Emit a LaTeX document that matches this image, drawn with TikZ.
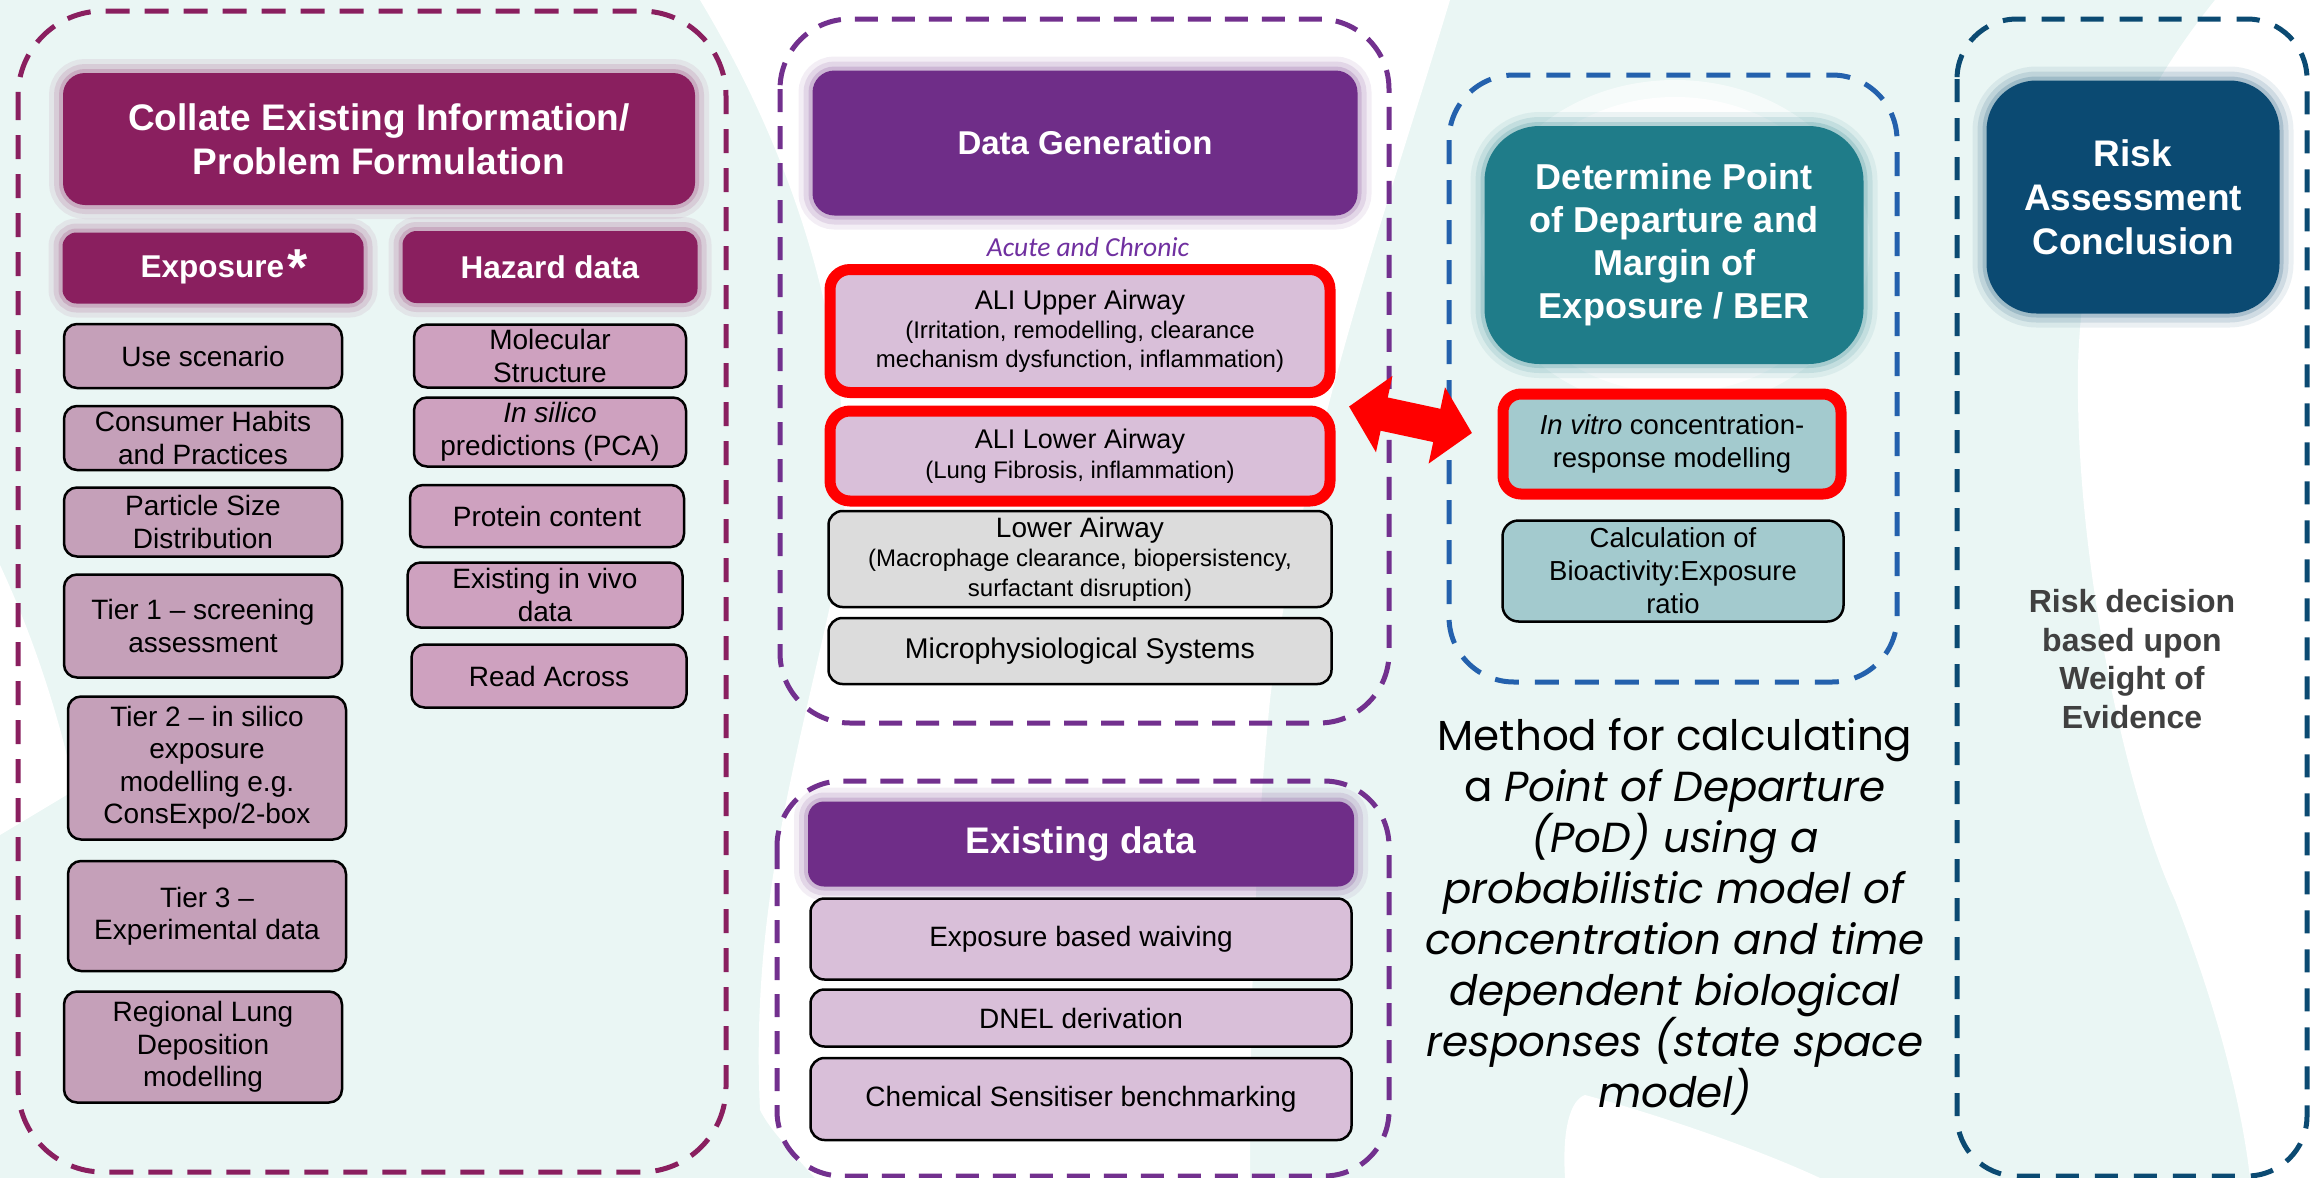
\documentclass[tikz,border=0pt]{standalone}
\usepackage{fontspec}
\setmainfont{Liberation Sans}
\newfontfamily\calfont{Carlito}
\newfontfamily\methodfont{Poppins}
\usetikzlibrary{arrows.meta,calc}

\definecolor{bgmint}{HTML}{EAF6F4}
\definecolor{magenta}{HTML}{8A1F5F}
\definecolor{exfill}{HTML}{C5A0B9}
\definecolor{hzfill}{HTML}{CEA1BF}
\definecolor{purp}{HTML}{6F2D88}
\definecolor{purpdash}{HTML}{72308E}
\definecolor{lav}{HTML}{D9BFD9}
\definecolor{greyfill}{HTML}{DCDCDC}
\definecolor{teal}{HTML}{1F7C89}
\definecolor{lteal}{HTML}{A3CACE}
\definecolor{bluedash}{HTML}{2461AD}
\definecolor{navy}{HTML}{0B4A72}
\definecolor{darkgrey}{HTML}{404040}
\definecolor{acute}{HTML}{7030A0}

\newcommand\fsz[2]{\fontsize{#1}{#2}\selectfont}

\tikzset{
  glow/.style={
    preaction={draw=#1, line width=28pt, opacity=0.08},
    preaction={draw=#1, line width=18pt, opacity=0.12},
    preaction={draw=#1, line width=8pt, opacity=0.18}},
  hdr/.style={fill=#1, glow=#1, text=white, inner sep=0pt, align=center,
    rounded corners=22pt},
  itemE/.style={draw=black, line width=2.5pt, fill=exfill, rounded corners=13pt,
    inner sep=0pt, align=center, font=\fsz{28}{32.5}},
  itemH/.style={itemE, fill=hzfill},
  redbox/.style={draw=red, line width=11pt, rounded corners=20pt, inner sep=0pt,
    align=center},
  greybox/.style={draw=black, line width=2.5pt, fill=greyfill, rounded corners=14pt,
    inner sep=0pt, align=center},
  exbox/.style={draw=black, line width=2.5pt, fill=lav, rounded corners=14pt,
    inner sep=0pt, align=center, font=\fsz{28}{32}},
  container/.style={line width=5pt, draw=#1},
  bigarrow/.style={draw=red, line width=34pt,
    {Triangle[length=36pt,width=76pt]}-{Triangle[length=36pt,width=76pt]}}
}

\begin{document}
\begin{tikzpicture}[x=1pt,y=-1pt]
\useasboundingbox (0,0) rectangle (2311,1178);

% background with soft white swooshes
\fill[bgmint] (0,0) rectangle (2311,1178);
\fill[white] (700,0) -- (1450,0)
  .. controls (1390,200) and (1300,450) .. (1270,700)
  .. controls (1255,850) and (1250,1000) .. (1250,1178) -- (815,1178)
  .. controls (790,1150) and (770,1130) .. (760,1110)
  .. controls (750,900) and (800,750) .. (840,560)
  .. controls (860,400) and (820,200) .. (700,0) -- cycle;
\fill[white] (2215,0) .. controls (2110,130) and (2075,260) .. (2078,400)
  .. controls (2080,560) and (2120,780) .. (2175,900)
  .. controls (2210,990) and (2240,1090) .. (2250,1178)
  -- (2311,1178) -- (2311,0) -- cycle;
\fill[white] (1565,1178) .. controls (1562,1130) and (1570,1100) .. (1585,1095)
  .. controls (1660,1115) and (1760,1150) .. (1820,1178) -- cycle;
\fill[white] (0,565) .. controls (35,640) and (60,720) .. (75,790)
  .. controls (50,805) and (25,820) .. (0,835) -- cycle;
\fill[white, opacity=0.6] (1675,245) ellipse [x radius=195pt, y radius=165pt];
\fill[white, opacity=0.9] (1675,245) ellipse [x radius=175pt, y radius=148pt];

% dashed stage frames
\draw[container=magenta, dash pattern=on 24pt off 15pt, rounded corners=85pt]
  (18,11) rectangle (726,1172);
\draw[container=purpdash, dash pattern=on 23pt off 14pt, rounded corners=70pt]
  (780,19) rectangle (1389,723);
\draw[container=purpdash, dash pattern=on 23pt off 14pt, rounded corners=65pt]
  (777,781) rectangle (1389,1176);
\draw[container=bluedash, dash pattern=on 24pt off 16pt, rounded corners=65pt]
  (1449,75) rectangle (1897,682);
\draw[container=navy, dash pattern=on 23pt off 16pt, rounded corners=60pt]
  (1957,19) rectangle (2307,1176);

% stage 1: collate existing information
\node[hdr=magenta, minimum width=632pt, minimum height=132pt,
      font=\bfseries\fsz{37}{44}] (collate) at (379,139)
  {Collate Existing Information/\\Problem Formulation};
\node[hdr=magenta, rounded corners=14pt, minimum width=301pt, minimum height=71pt,
      font=\bfseries\fsz{31.5}{36}] (exposure) at (213,268)
  {\hspace*{22pt}Exposure\hspace{3pt}\raisebox{-8pt}{\fsz{52}{52}*}};
\node[hdr=magenta, rounded corners=14pt, minimum width=295pt, minimum height=72pt,
      font=\bfseries\fsz{31.5}{36}] (hazard) at (550,267) {Hazard data};

\node[itemE, minimum width=278pt, minimum height=64pt] (use) at (203,356) {Use scenario};
\node[itemE, minimum width=278pt, minimum height=64pt] (habits) at (203,438)
  {Consumer Habits\\and Practices};
\node[itemE, minimum width=278pt, minimum height=69pt] (psd) at (203,522)
  {Particle Size\\Distribution};
\node[itemE, minimum width=278pt, minimum height=103pt] (tier1) at (203,626)
  {Tier 1 – screening\\assessment};
\node[itemE, minimum width=278pt, minimum height=143pt] (tier2) at (207,768)
  {Tier 2 – in silico\\exposure\\modelling e.g.\\ConsExpo/2-box};
\node[itemE, minimum width=278pt, minimum height=110pt] (tier3) at (207,916)
  {Tier 3 –\\Experimental data};
\node[itemE, minimum width=278pt, minimum height=111pt] (rld) at (203,1047)
  {Regional Lung\\Deposition\\modelling};

\node[itemH, minimum width=272pt, minimum height=63pt] (mol) at (550,356)
  {Molecular\\Structure};
\node[itemH, minimum width=272pt, minimum height=69pt] (insilico) at (550,432)
  {\textit{In silico}\\predictions (PCA)};
\node[itemH, minimum width=274pt, minimum height=62pt] (protein) at (547,516)
  {Protein content};
\node[itemH, minimum width=275pt, minimum height=65pt] (invivo) at (545,595)
  {Existing in vivo\\data};
\node[itemH, minimum width=275pt, minimum height=63pt] (readacross) at (549,676)
  {Read Across};

% stage 2: data generation
\node[hdr=purp, minimum width=545pt, minimum height=145pt,
      font=\bfseries\fsz{33}{40}] (datagen) at (1085,143) {Data Generation};
\node[text=acute, inner sep=0pt, font=\calfont\itshape\fsz{27.5}{32}] (acutechronic)
  at (1088,247) {Acute and Chronic};

\node[redbox, fill=lav, minimum width=500pt, minimum height=123pt,
      font=\fsz{24}{29}] (aliU) at (1080,331)
  {{\fsz{27}{29}ALI Upper Airway}\\(Irritation, remodelling, clearance\\mechanism dysfunction, inflammation)};
\node[redbox, fill=lav, minimum width=500pt, minimum height=90pt,
      font=\fsz{24}{30}] (aliL) at (1080,456)
  {{\fsz{27}{30}ALI Lower Airway}\\(Lung Fibrosis, inflammation)};
\node[greybox, minimum width=503pt, minimum height=96pt, font=\fsz{24}{29.5}]
  (lowerairway) at (1080,559)
  {{\fsz{28}{29.5}Lower Airway}\\(Macrophage clearance, biopersistency,\\surfactant disruption)};
\node[greybox, minimum width=503pt, minimum height=66pt, font=\fsz{28.5}{33}]
  (mps) at (1080,651) {Microphysiological Systems};

% stage 2b: existing data
\node[hdr=purp, rounded corners=16pt, minimum width=546pt, minimum height=85pt,
      font=\bfseries\fsz{37}{42}] (existing) at (1081,844) {Existing data};
\node[exbox, minimum width=541pt, minimum height=81pt] (waiving) at (1081,939)
  {Exposure based waiving};
\node[exbox, minimum width=541pt, minimum height=57pt] (dnel) at (1081,1018)
  {DNEL derivation};
\node[exbox, minimum width=541pt, minimum height=82pt] (sensitiser) at (1081,1099)
  {Chemical Sensitiser benchmarking};

% stage 3: point of departure
\node[hdr=teal, rounded corners=55pt, minimum width=379pt, minimum height=238pt,
      font=\bfseries\fsz{36}{43}] (pod) at (1674,245)
  {Determine Point\\of Departure and\\Margin of\\Exposure / BER};
\node[redbox, fill=lteal, rounded corners=18pt, minimum width=338pt, minimum height=100pt,
      font=\fsz{27.5}{33}] (invitro) at (1672,444)
  {\textit{In vitro} concentration-\\response modelling};
\node[draw=black, line width=2.5pt, fill=lteal, rounded corners=16pt, inner sep=0pt,
      align=center, minimum width=341pt, minimum height=101pt, font=\fsz{27.5}{33}]
  (ber) at (1673,571) {Calculation of\\Bioactivity:Exposure\\ratio};

\node[inner sep=0pt, align=center, font=\methodfont\fsz{42}{51}] (method) at (1675,917)
  {Method for calculating\\a \textit{Point of Departure}\\\textit{(PoD) using a}\\
   \textit{probabilistic model of}\\\textit{concentration and time}\\
   \textit{dependent biological}\\\textit{responses (state space}\\\textit{model)}};

% stage 4: risk assessment
\node[hdr=navy, rounded corners=50pt, minimum width=293pt, minimum height=233pt,
      font=\bfseries\fsz{37}{44}] (risk) at (2133,197)
  {Risk\\Assessment\\Conclusion};
\node[inner sep=0pt, align=center, text=darkgrey, font=\bfseries\fsz{32}{38.5}]
  (decision) at (2132,659) {Risk decision\\based upon\\Weight of\\Evidence};

% link between the ALI models and concentration-response modelling
\draw[bigarrow] ($(aliU.south east)+(13.5,8.5)$) -- ($(invitro.west)+(-25.5,-11)$);
\end{tikzpicture}
\end{document}
